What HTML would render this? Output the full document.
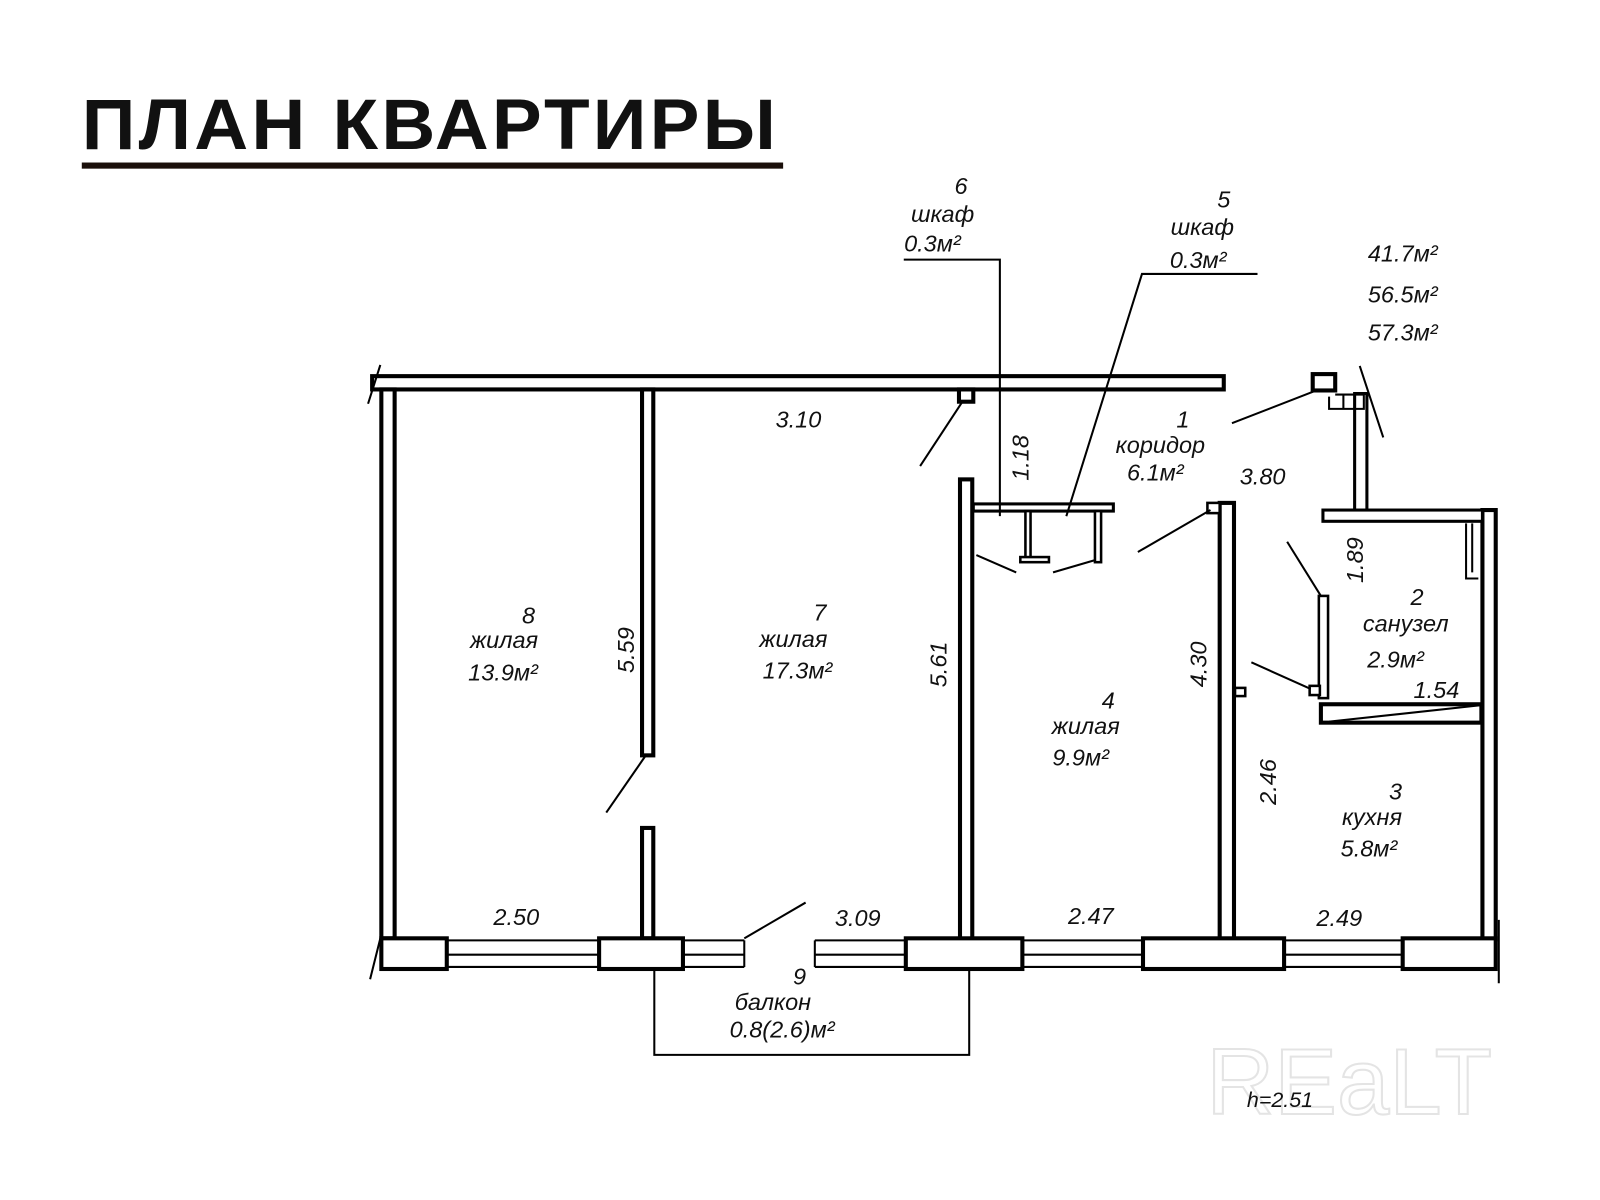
<!DOCTYPE html>
<html><head><meta charset="utf-8"><style>
html,body{margin:0;padding:0;background:#fff;}
svg{display:block;}
text{font-family:"Liberation Sans",sans-serif;font-style:italic;fill:#111;}
</style></head><body>
<svg width="1600" height="1200" viewBox="0 0 1565 1174" preserveAspectRatio="none" xmlns="http://www.w3.org/2000/svg">
<rect width="1565" height="1174" fill="#fff"/>
<text x="1180" y="1090" style="font-style:normal;font-size:92px;fill:#fff;stroke:#e4e4e4;stroke-width:2">REaLT</text>
<text x="80" y="146" style="font-style:normal;font-weight:bold;font-size:70px;letter-spacing:3px" textLength="682" lengthAdjust="spacingAndGlyphs">ПЛАН КВАРТИРЫ</text>
<rect x="80" y="159" width="686" height="6" fill="#1a0f0a"/>

<g fill="#fff" stroke="#000" stroke-width="4">
<rect x="364" y="368" width="833" height="13"/>
<rect x="373" y="381" width="13" height="537"/>
<rect x="628" y="381" width="11" height="358"/>
<rect x="628" y="810" width="11" height="108"/>
<rect x="938" y="381" width="14" height="12"/>
<rect x="939" y="469" width="12" height="450"/>
<rect x="1193" y="492" width="14" height="427"/>
<rect x="1181" y="492" width="12" height="10" stroke-width="2.5"/>
<rect x="1450" y="499" width="13" height="420"/>
<rect x="1284" y="366" width="22" height="16"/>
<rect x="1325" y="385" width="12" height="115" stroke-width="3"/>
<rect x="1294" y="499" width="156" height="11" stroke-width="3"/>
<rect x="1290" y="583" width="9" height="100" stroke-width="2.5"/>
<rect x="1281" y="671" width="10" height="9" stroke-width="2.5"/>
<rect x="1208" y="673" width="10" height="8" stroke-width="2.5"/>
<rect x="1292" y="689" width="157" height="18"/>
<rect x="952" y="493" width="137" height="7" stroke-width="3"/>
<rect x="1071" y="500" width="6" height="50" stroke-width="2.5"/>
<rect x="1003" y="500" width="5" height="46" stroke-width="2.5"/>
<rect x="998" y="545" width="28" height="5" stroke-width="2.5"/>
<rect x="373" y="918" width="64" height="30"/>
<rect x="586" y="918" width="82" height="30"/>
<rect x="886" y="918" width="114" height="30"/>
<rect x="1118" y="918" width="138" height="30"/>
<rect x="1372" y="918" width="91" height="30"/>
</g>
<g stroke="#000" stroke-width="2" fill="none">
<path d="M437 920H586M437 934H586M437 946H586"/>
<path d="M668 920H728M668 934H728M668 946H728M728 920V946"/>
<path d="M797 920H886M797 934H886M797 946H886M797 920V946"/>
<path d="M1000 920H1118M1000 934H1118M1000 946H1118"/>
<path d="M1256 920H1372M1256 934H1372M1256 946H1372"/>
<path d="M1306 386H1334V400H1300V388M1314 386L1314 400"/>
<path d="M1434 512V566H1446M1440 512V560"/>
<path d="M1300 706L1448 690"/>
<path d="M942 392L900 456"/>
<path d="M1184 499L1113 540"/>
<path d="M1285 383L1205 414"/>
<path d="M1292 583L1259 530"/>
<path d="M1282 674L1224 648"/>
<path d="M631 740L593 795"/>
<path d="M728 918L788 883"/>
<path d="M955 543L994 560M1071 548L1030 560"/>
<path d="M884 254H978V505"/>
<path d="M1230 268H1117L1043 505"/>
<path d="M640 948V1032H948V948"/>
<path d="M372 357L360 395M372 918L362 958M1466 900L1466 962M1330 358L1353 428"/>
</g>

<g font-size="23">
<text x="940" y="190" text-anchor="middle">6</text>
<text x="922" y="217" text-anchor="middle">шкаф</text>
<text x="912" y="246" text-anchor="middle">0.3м²</text>
<text x="1197" y="203" text-anchor="middle">5</text>
<text x="1176" y="230" text-anchor="middle">шкаф</text>
<text x="1172" y="262" text-anchor="middle">0.3м²</text>
<text x="1372" y="256" text-anchor="middle">41.7м²</text>
<text x="1372" y="296" text-anchor="middle">56.5м²</text>
<text x="1372" y="333" text-anchor="middle">57.3м²</text>
<text x="781" y="418" text-anchor="middle">3.10</text>
<text x="1157" y="418" text-anchor="middle">1</text>
<text x="1135" y="443" text-anchor="middle">коридор</text>
<text x="1130" y="470" text-anchor="middle">6.1м²</text>
<text x="1235" y="474" text-anchor="middle">3.80</text>
<text x="1386" y="592" text-anchor="middle">2</text>
<text x="1375" y="618" text-anchor="middle">санузел</text>
<text x="1365" y="653" text-anchor="middle">2.9м²</text>
<text x="1405" y="683" text-anchor="middle">1.54</text>
<text x="517" y="610" text-anchor="middle">8</text>
<text x="493" y="634" text-anchor="middle">жилая</text>
<text x="492" y="666" text-anchor="middle">13.9м²</text>
<text x="802" y="607" text-anchor="middle">7</text>
<text x="776" y="633" text-anchor="middle">жилая</text>
<text x="780" y="664" text-anchor="middle">17.3м²</text>
<text x="1084" y="693" text-anchor="middle">4</text>
<text x="1062" y="718" text-anchor="middle">жилая</text>
<text x="1057" y="749" text-anchor="middle">9.9м²</text>
<text x="1365" y="782" text-anchor="middle">3</text>
<text x="1342" y="807" text-anchor="middle">кухня</text>
<text x="1339" y="838" text-anchor="middle">5.8м²</text>
<text x="505" y="905" text-anchor="middle">2.50</text>
<text x="839" y="906" text-anchor="middle">3.09</text>
<text x="1067" y="904" text-anchor="middle">2.47</text>
<text x="1310" y="906" text-anchor="middle">2.49</text>
<text x="782" y="963" text-anchor="middle">9</text>
<text x="756" y="988" text-anchor="middle">балкон</text>
<text x="765" y="1015" text-anchor="middle">0.8(2.6)м²</text>
<text x="1252" y="1083" text-anchor="middle" font-size="21">h=2.51</text>
<text transform="translate(1006,448) rotate(-90)" text-anchor="middle">1.18</text>
<text transform="translate(620,636) rotate(-90)" text-anchor="middle">5.59</text>
<text transform="translate(926,650) rotate(-90)" text-anchor="middle">5.61</text>
<text transform="translate(1180,650) rotate(-90)" text-anchor="middle">4.30</text>
<text transform="translate(1333,548) rotate(-90)" text-anchor="middle">1.89</text>
<text transform="translate(1248,765) rotate(-90)" text-anchor="middle">2.46</text>
</g>
</svg>
</body></html>
